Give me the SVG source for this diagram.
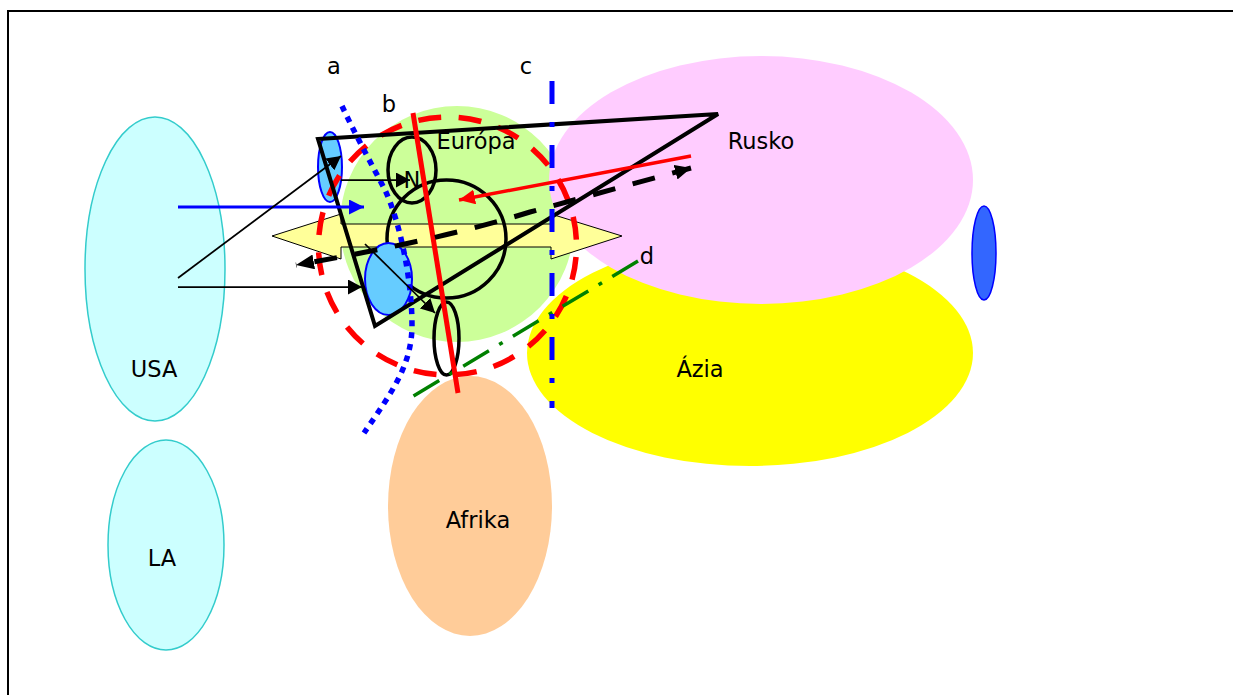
<svg xmlns="http://www.w3.org/2000/svg" width="1233" height="695" viewBox="0 0 1233 695">
<defs>
<marker id="ab" markerUnits="userSpaceOnUse" markerWidth="14" markerHeight="15" refX="14" refY="7.5" orient="auto"><path d="M0 0L14 7.5L0 15Z" fill="#000"/></marker>
<marker id="ad" markerUnits="userSpaceOnUse" markerWidth="18" markerHeight="15" refX="18" refY="7.5" orient="auto"><path d="M0 0L18 7.5L0 15Z" fill="#000"/></marker>
<marker id="ad2" markerUnits="userSpaceOnUse" markerWidth="16" markerHeight="15" refX="0" refY="7.5" orient="auto"><path d="M16 0L0 7.5L16 15Z" fill="#000"/></marker>
<marker id="au" markerUnits="userSpaceOnUse" markerWidth="15" markerHeight="15" refX="15" refY="7.5" orient="auto"><path d="M0 0L15 7.5L0 15Z" fill="#00f"/></marker>
<marker id="ar" markerUnits="userSpaceOnUse" markerWidth="16" markerHeight="15" refX="16" refY="7.5" orient="auto"><path d="M0 0L16 7.5L0 15Z" fill="#f00"/></marker>
</defs>
<style>
text{font-family:"DejaVu Sans","Liberation Sans",sans-serif;font-size:22.5px;fill:#000;text-anchor:middle}
.th{fill:none;stroke:#000;stroke-width:3.5}
.cy{fill:#ccffff;stroke:#33cccc;stroke-width:1.5}
.bl{fill:#66ccff;stroke:#00f;stroke-width:2}
.c{fill:none}
</style>
<path d="M8 695V11H1233" fill="none" stroke="#000" stroke-width="2"/>
<g id="usa"><ellipse class="cy" cx="155" cy="269" rx="70" ry="152"/><text x="154" y="377">USA</text></g>
<g id="la"><ellipse class="cy" cx="166" cy="545" rx="58" ry="105"/><text x="162" y="566">LA</text></g>
<g id="europa"><ellipse cx="457" cy="224" rx="117" ry="118" fill="#ccff99"/></g>
<g id="azia"><ellipse cx="750" cy="353" rx="223" ry="113" fill="#ffff00"/><text x="700" y="377">Ázia</text></g>
<g id="rusko"><ellipse cx="761" cy="180" rx="212" ry="124" fill="#ffccff"/><text x="761" y="149">Rusko</text></g>
<g id="afrika"><ellipse cx="470" cy="506" rx="82" ry="130" fill="#ffcc99"/><text x="478" y="528">Afrika</text></g>
<g id="yellow-arrow"><path d="M272 236L341 214V224H551V214L622 236L551 259V247H341V259Z" fill="#ffff99" stroke="#000" stroke-width="1"/></g>
<g id="europa-label"><text x="476" y="149">Európa</text></g>
<g id="blue-far"><ellipse cx="984" cy="253" rx="12" ry="47" fill="#3366ff" stroke="#00f" stroke-width="1.5"/></g>
<g id="circle-big"><ellipse class="th" cx="446.500" cy="239" rx="59.500" ry="59"/></g>
<g id="blue-small"><ellipse class="bl" cx="330" cy="167" rx="12" ry="35"/></g>
<g id="blue-mid"><ellipse class="bl" cx="388.500" cy="279" rx="23.500" ry="36"/></g>
<g id="circle-n"><ellipse class="th" cx="412" cy="170" rx="24" ry="33"/><text x="412" y="188">N</text></g>
<g id="circle-small"><ellipse class="th" cx="446.500" cy="338.500" rx="12.500" ry="36.500"/></g>
<g id="labels"><text x="334" y="74">a</text><text x="389" y="112">b</text><text x="526" y="74">c</text><text x="647" y="264">d</text></g>
<g id="connectors">
<ellipse cx="447.500" cy="246" rx="129" ry="129" class="c" stroke="#f00" stroke-width="5.500" stroke-dasharray="23 17.520" stroke-dashoffset="-11"/>
<path d="M318 139L718 114L375 326Z" class="th" style="stroke-width:4"/>
<path d="M342 106C352 128 372 165 385 190C400 222 412 280 412 325C412 365 392 392 364 433" class="c" stroke="#00f" stroke-width="5.500" stroke-dasharray="6 6"/>
<path d="M638 261L412 397" class="c" stroke="#008000" stroke-width="3.500" stroke-dasharray="30 12 4 12"/>
<path d="M413 113L458 393" class="c" stroke="#f00" stroke-width="5"/>
<path d="M691 156L459 200" class="c" stroke="#f00" stroke-width="3.500" marker-end="url(#ar)"/>
<path d="M691 168L530 212Q440 240 296 265" class="c" stroke="#000" stroke-width="5" stroke-dasharray="23 18" stroke-dashoffset="3.500" marker-start="url(#ad2)" marker-end="url(#ad)"/>
<path d="M552 81V408" class="c" stroke="#00f" stroke-width="5" stroke-dasharray="23 18 5 18"/>
<path d="M178 207H364" class="c" stroke="#00f" stroke-width="3" marker-end="url(#au)"/>
<path d="M178 278L341 156" class="c" stroke="#000" stroke-width="1.750" marker-end="url(#ab)"/>
<path d="M178 287H362" class="c" stroke="#000" stroke-width="1.750" marker-end="url(#ab)"/>
<path d="M341 180H410" class="c" stroke="#000" stroke-width="1.750" marker-end="url(#ab)"/>
<path d="M365 244L435 313" class="c" stroke="#000" stroke-width="1.750" marker-end="url(#ab)"/>
</g>
</svg>
